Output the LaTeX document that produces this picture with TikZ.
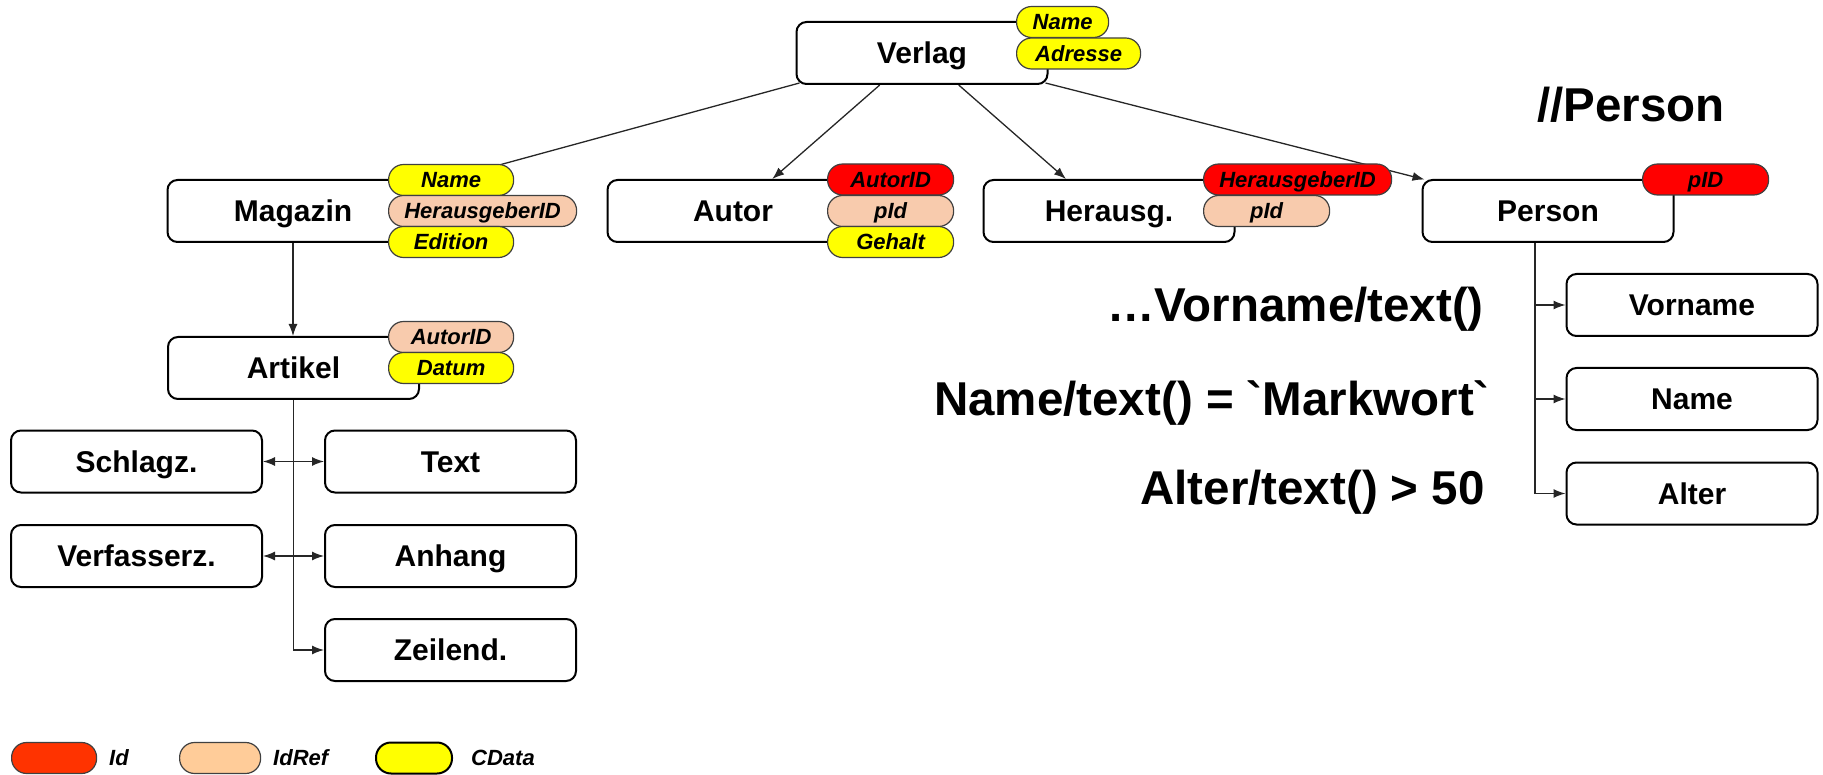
\documentclass[tikz,border=0pt]{standalone}
\usepackage{fontspec}
\setmainfont{Liberation Sans}
\newfontfamily\exprfont{Liberation Sans}
\usetikzlibrary{arrows.meta,calc}
\pgfdeclarelayer{bg}
\pgfsetlayers{bg,main}
\definecolor{idred}{HTML}{FF0000}
\definecolor{idrefpeach}{HTML}{F8CBAD}
\definecolor{cdatayellow}{HTML}{FFFF00}
\definecolor{legendred}{HTML}{FF3300}
\definecolor{legendpeach}{HTML}{FFCC99}
\begin{document}
\begin{tikzpicture}[x=1pt,y=-1pt,
  elem/.style={draw=black,line width=2pt,rounded corners=10pt,fill=white,
    minimum width=251pt,minimum height=62pt,inner sep=0pt,
    text height=21.5pt,text depth=0pt,
    font=\fontsize{30}{36}\selectfont\bfseries},
  attr/.style={draw=black!75,line width=1.2pt,rounded corners=15pt,
    minimum height=31pt,minimum width=#1,inner sep=0pt,anchor=west,
    text height=15.8pt,text depth=0pt,
    font=\fontsize{22}{26}\selectfont\bfseries\itshape},
  attr/.default=125pt,
  idattr/.style={attr=#1,fill=idred},idattr/.default=126pt,
  refattr/.style={attr=#1,fill=idrefpeach},refattr/.default=126pt,
  cdattr/.style={attr=#1,fill=cdatayellow},cdattr/.default=126pt,
  conn/.style={line width=1.3pt,draw=black!85},
  arr/.style={conn,-{Latex[length=12pt,width=9pt]}},
  darr/.style={conn,{Latex[length=12pt,width=9pt]}-{Latex[length=12pt,width=9pt]}},
  expr/.style={inner sep=0pt,font=\exprfont\fontsize{47.5}{54}\selectfont\bfseries},
  legendtxt/.style={inner sep=0pt,anchor=west,font=\fontsize{22}{26}\selectfont\bfseries\itshape}
]
\useasboundingbox (0,0) rectangle (1823,775);

% element boxes
\node[elem] (verlag)     at (922,53)      {Verlag};
\node[elem] (magazin)    at (293,211)     {Magazin};
\node[elem] (autor)      at (733,211)     {Autor};
\node[elem] (herausg)    at (1109,211)    {Herausg.};
\node[elem] (person)     at (1548,211)    {Person};
\node[elem] (artikel)    at (293.5,368)   {Artikel};
\node[elem] (schlagz)    at (136.5,461.5) {Schlagz.};
\node[elem] (text)       at (450.5,461.5) {Text};
\node[elem] (verfasserz) at (136.5,556)   {Verfasserz.};
\node[elem] (anhang)     at (450.5,556)   {Anhang};
\node[elem] (zeilend)    at (450.5,650)   {Zeilend.};
\node[elem] (vorname)    at (1692,305)    {Vorname};
\node[elem] (pname)      at (1692,399)    {Name};
\node[elem] (alter)      at (1692,493.5)  {Alter};

% attribute badges
\node[cdattr=92pt]  (verName)  at (1016,22)    {Name};
\node[cdattr=124pt] (verAdr)   at (1016,53.5)  {Adresse};
\node[cdattr=125pt] (magName)  at (388,180)    {Name};
\node[refattr=188pt] (magHid)  at (388,211)    {HerausgeberID};
\node[cdattr=125pt] (magEd)    at (388,242)    {Edition};
\node[idattr]  (autId)   at (827,179.5)  {AutorID};
\node[refattr] (autPid)  at (827,211)    {pId};
\node[cdattr]  (autGeh)  at (827,242)    {Gehalt};
\node[idattr=188pt] (hrsgId) at (1203,179.5) {HerausgeberID};
\node[refattr] (hrsgPid) at (1203,211)   {pId};
\node[idattr]  (perId)   at (1642,179.5) {pID};
\node[refattr=125pt] (artAid) at (388,337) {AutorID};
\node[cdattr=125pt]  (artDat) at (388,368) {Datum};

% connectors
\begin{pgfonlayer}{bg}
  \draw[conn] ($(verlag.south west)+(4,-2)$) -- ($(magName.north east)+(-22,3)$);
  \draw[arr] ($(verlag.south west)!0.333!(verlag.south east)$) -- ($(autor.north west)!0.655!(autor.north east)$);
  \draw[arr] ($(verlag.south west)!0.645!(verlag.south east)$) -- ($(herausg.north west)!0.33!(herausg.north east)$);
  \draw[arr] ($(verlag.south east)+(-3,-2)$) -- ($(person.north west)+(3,0.5)$);
  \draw[arr] (magazin.south) -- (magazin.south |- artikel.north);
  \draw[arr] (artikel.south) |- (zeilend.west);
  \draw[darr] (schlagz.east) -- (text.west);
  \draw[darr] (verfasserz.east) -- (anhang.west);
  \coordinate (ptrunk) at ($(person.south)+(-13,0)$);
  \draw[arr] (ptrunk) |- (vorname.west);
  \draw[arr] (ptrunk) |- (pname.west);
  \draw[arr] (ptrunk) |- (alter.west);
\end{pgfonlayer}

% query expressions
\node[expr,anchor=base west] (qperson) at (1537,122) {//Person};
\node[expr,anchor=base east] (qvor)    at (1484,322) {…Vorname/text()};
\node[expr,anchor=base east] (qname)   at (1490,415) {Name/text() = `Markwort`};
\node[expr,anchor=base east] (qalter)  at (1485,504) {Alter/text() > 50};

% legend
\node[attr=85pt,fill=legendred]  (lgId)    at (11,758)  {};
\node[legendtxt]                 (lgIdT)   at (109,758) {Id};
\node[attr=81pt,fill=legendpeach] (lgRef)  at (179,758) {};
\node[legendtxt]                 (lgRefT)  at (273,758) {IdRef};
\node[attr=76pt,fill=cdatayellow,draw=black,line width=2pt] (lgCd) at (375,758) {};
\node[legendtxt]                 (lgCdT)   at (471,758) {CData};
\end{tikzpicture}
\end{document}
